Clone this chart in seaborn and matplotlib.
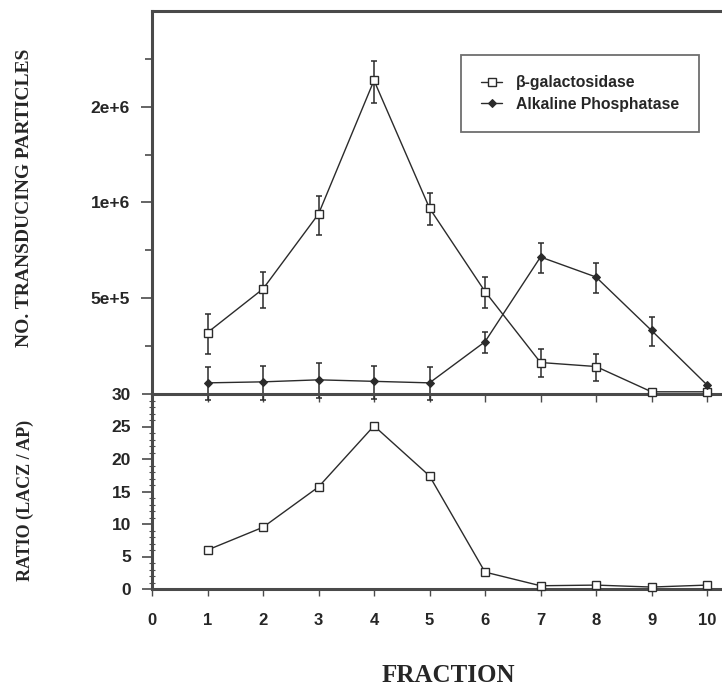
import numpy as np
import pandas as pd
import matplotlib
matplotlib.use("Agg")
import matplotlib.pyplot as plt
import matplotlib.ticker as mticker
import seaborn as sns

# ---------------- data ----------------
fractions = [1, 2, 3, 4, 5, 6, 7, 8, 9, 10]
bgal = [3.9e5, 5.35e5, 9.2e5, 2.42e6, 9.6e5, 5.25e5, 3.14e5, 3.05e5, 2.54e5, 2.54e5]
bgal_err = [0.55e5, 0.7e5, 1.3e5, 0.36e6, 1.1e5, 0.6e5, 0.32e5, 0.3e5, 0.0, 0.0]
ap = [2.71e5, 2.73e5, 2.77e5, 2.74e5, 2.71e5, 3.65e5, 6.74e5, 5.83e5, 3.96e5, 2.67e5]
ap_err = [0.32e5, 0.33e5, 0.35e5, 0.33e5, 0.32e5, 0.28e5, 0.73e5, 0.64e5, 0.42e5, 0.0]
ratio = [6.0, 9.5, 15.7, 25.1, 17.4, 2.6, 0.5, 0.6, 0.3, 0.6]

top_major = [5e5, 1e6, 2e6]
top_major_labels = ["5e+5", "1e+6", "2e+6"]
top_minor = [3.54e5, 7.07e5, 1.414e6, 2.83e6]
ratio_ticks = [0, 5, 10, 15, 20, 25, 30]
x_ticks = [0, 1, 2, 3, 4, 5, 6, 7, 8, 9, 10]

series_names = ["β-galactosidase", "Alkaline Phosphatase"]

# ---------------- style ----------------
sns.set_theme(style="ticks")
plt.rcParams["font.family"] = ["Liberation Sans", "DejaVu Sans"]
plt.rcParams["font.weight"] = "bold"

INK = "#2b2b2b"
SPINE = "#4a4a4a"

fig = plt.figure(figsize=(7.22, 6.88), dpi=100)
L = 152 / 722
ax2 = fig.add_axes([L, 1 - 589 / 688, 1 - L, (589 - 394) / 688])
ax1 = fig.add_axes([L, 1 - 394 / 688, 1 - L, (394 - 11) / 688])
ax1.patch.set_alpha(0)
ax2.patch.set_alpha(0)

df = pd.DataFrame({"fraction": fractions, "bgal": bgal, "ap": ap, "ratio": ratio})

# ---------------- top panel ----------------
ax1.errorbar(fractions, bgal, yerr=bgal_err, fmt="none", ecolor=INK,
             elinewidth=1.1, capsize=2.5, capthick=1.1, zorder=2, clip_on=False)
ax1.errorbar(fractions, ap, yerr=ap_err, fmt="none", ecolor=INK,
             elinewidth=1.1, capsize=2.5, capthick=1.1, zorder=2, clip_on=False)
sns.lineplot(data=df, x="fraction", y="bgal", ax=ax1, color=INK, linewidth=1.0,
             marker="s", markersize=6, markerfacecolor="white",
             markeredgecolor=INK, markeredgewidth=1.0, label=series_names[0],
             zorder=3, clip_on=False)
sns.lineplot(data=df, x="fraction", y="ap", ax=ax1, color=INK, linewidth=1.0,
             marker="D", markersize=4, markerfacecolor=INK,
             markeredgecolor=INK, label=series_names[1], zorder=3, clip_on=False)

ax1.set_yscale("log", base=2)
ax1.set_ylim(2.5e5, 4.0e6)
ax1.set_xlim(0, 10.27)
ax1.yaxis.set_major_locator(mticker.FixedLocator(top_major))
ax1.yaxis.set_major_formatter(mticker.FixedFormatter(top_major_labels))
ax1.yaxis.set_minor_locator(mticker.FixedLocator(top_minor))
ax1.yaxis.set_minor_formatter(mticker.NullFormatter())
ax1.set_xticks(x_ticks[1:])
ax1.tick_params(axis="x", labelbottom=False, direction="out", length=6,
                width=1.0, color=SPINE)
ax1.tick_params(axis="y", which="major", direction="out", length=8, width=1.2,
                color=SPINE, pad=8, labelsize=12.5)
ax1.tick_params(axis="y", which="minor", direction="out", length=5, width=1.2,
                color=SPINE)
ax1.set_xlabel("")
ax1.set_ylabel("")
for s in ["top", "left", "bottom"]:
    ax1.spines[s].set_color(SPINE)
    ax1.spines[s].set_linewidth(2.2)
ax1.spines["right"].set_visible(False)

leg = ax1.legend(loc="upper left", bbox_to_anchor=(0.542, 0.885), frameon=True,
                 fancybox=False, edgecolor=SPINE, borderpad=1.3, borderaxespad=0,
                 handlelength=1.3, handletextpad=0.9, labelspacing=0.4,
                 prop={"weight": "bold", "size": 11.3})
leg.get_frame().set_linewidth(1.3)

# ---------------- bottom panel ----------------
sns.lineplot(data=df, x="fraction", y="ratio", ax=ax2, color=INK, linewidth=1.0,
             marker="s", markersize=6, markerfacecolor="white",
             markeredgecolor=INK, markeredgewidth=1.0, zorder=3, clip_on=False)
ax2.set_ylim(0, 30)
ax2.set_xlim(0, 10.27)
ax2.set_yticks(ratio_ticks)
ax2.yaxis.set_minor_locator(mticker.MultipleLocator(1))
ax2.set_xticks(x_ticks)
ax2.tick_params(axis="y", which="major", direction="out", length=7, width=1.2,
                color=SPINE, pad=8, labelsize=12.5)
ax2.tick_params(axis="y", which="minor", direction="inout", length=4, width=0.8,
                color=SPINE)
ax2.tick_params(axis="x", direction="out", length=5, width=1.0, color=SPINE,
                pad=12, labelsize=12)
ax2.set_xlabel("")
ax2.set_ylabel("")
for s in ["left", "bottom"]:
    ax2.spines[s].set_color(SPINE)
    ax2.spines[s].set_linewidth(2.2)
ax2.spines["top"].set_visible(False)
ax2.spines["right"].set_visible(False)

for a in (ax1, ax2):
    for lab in a.get_xticklabels() + a.get_yticklabels():
        lab.set_fontweight("bold")

# ---------------- labels ----------------
serif = ["Liberation Serif", "DejaVu Serif"]
fig.text(25 / 722, 1 - 198 / 688, "NO. TRANSDUCING PARTICLES", rotation=90,
         ha="center", va="center", family=serif, weight="bold", fontsize=14)
fig.text(25 / 722, 1 - 500 / 688, "RATIO (LACZ / AP)", rotation=90,
         ha="center", va="center", family=serif, weight="bold", fontsize=13)
fig.text(448 / 722, 1 - 675 / 688, "FRACTION", ha="center", va="center",
         family=serif, weight="bold", fontsize=18)

fig.savefig("out.png", dpi=100)
